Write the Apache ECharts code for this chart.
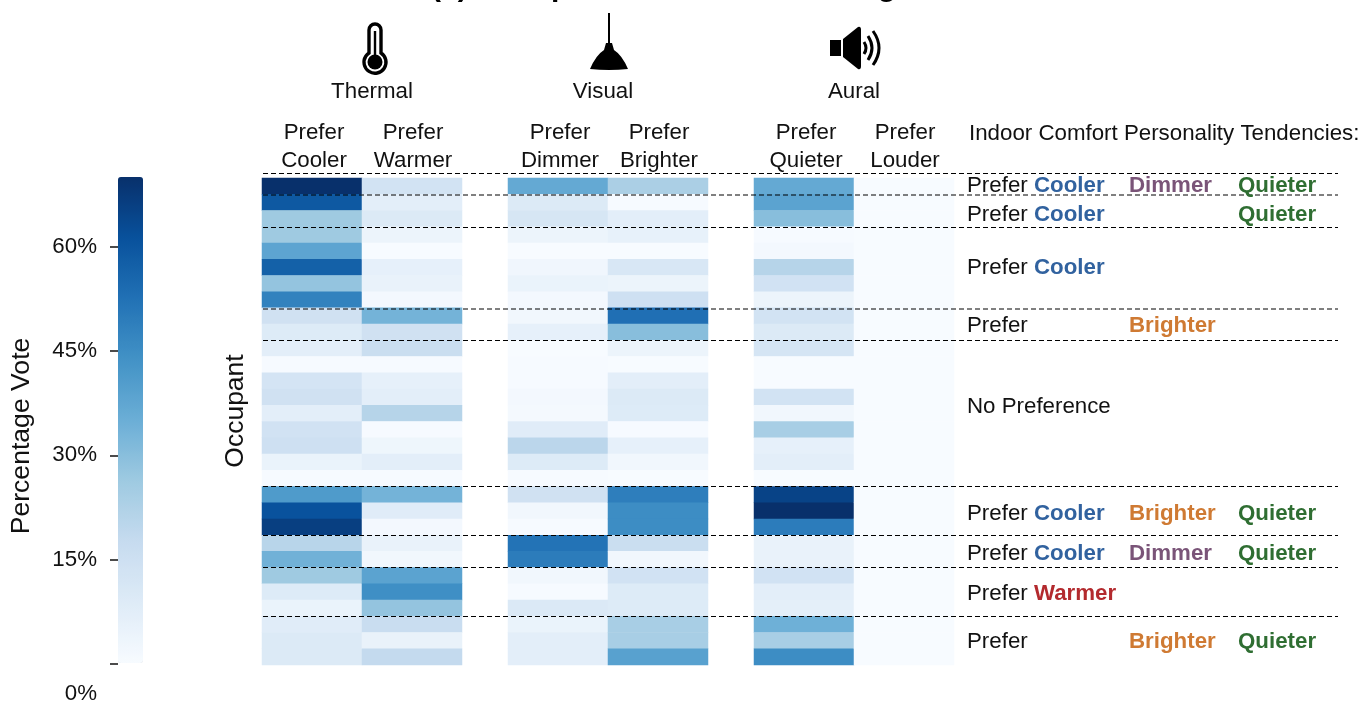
<!DOCTYPE html>
<html>
<head>
<meta charset="utf-8" />
<style>
  html, body { margin: 0; padding: 0; background: #fff; }
  #main { width: 1363px; height: 702px; }
</style>
<script src="https://cdn.jsdelivr.net/npm/echarts@6/dist/echarts.min.js"></script>
</head>
<body>
<div id="main"></div>
<script>
// percentage vote per occupant, top row first
const cooler   = [70, 59, 26, 26, 38, 57, 28, 48, 14, 9, 7, 0.5, 12.5, 14, 7, 13.5, 14.5, 4.5, 0.5, 41, 61, 66, 20.5, 34, 26, 9, 4.5, 8, 9.5, 9.5];
const warmer   = [13, 7, 9.5, 4, 0, 6, 5, 1.5, 33.5, 14, 16, 0.5, 6, 7, 21, 0.5, 3, 7, 0.5, 33.5, 8, 1.5, 5, 2, 38.5, 44.5, 28, 16.5, 5, 18];
const dimmer   = [36.5, 9.5, 11.5, 4, 0, 2.5, 4.5, 1.5, 2, 6, 0, 0.5, 0.5, 1.5, 1, 8, 20, 9, 0.5, 14, 2, 0.5, 52, 49.5, 2, 0.5, 10, 4.5, 7, 7];
const brighter = [23.5, 0.5, 7, 5.5, 0, 11, 4, 14.5, 53, 30, 4, 0, 7, 9.5, 9, 0.5, 6, 2, 0, 49, 45, 45, 16, 2, 13.5, 9, 9, 24, 24, 39];
const quieter  = [36.5, 38.5, 30, 0.5, 1.5, 21, 13.5, 4, 13, 9.5, 12, 0, 0, 13, 2, 24, 6, 7, 0, 65, 70, 49.5, 5, 5, 13.5, 7, 6.5, 34.5, 24, 45];
const louder   = [0, 0, 0, 0, 0, 0, 0, 0, 0, 0, 0, 0, 0, 0, 0, 0, 0, 0, 0, 0, 0, 0, 0, 0, 0, 0, 0, 0, 0, 0];

const occupants = cooler.map((v, i) => "O" + (i + 1));
const thermalCols = ["Prefer Cooler", "Prefer Warmer"];
const visualCols = ["Prefer Dimmer", "Prefer Brighter"];
const auralCols = ["Prefer Quieter", "Prefer Louder"];

const barTicks = [0, 15, 30, 45, 60];
const barLabels = [15, 30, 45, 60];

const blues = ["#f7fbff", "#deebf7", "#c6dbef", "#9ecae1", "#6baed6", "#4292c6", "#2171b5", "#08519c", "#08306b"];

// tendencies shown for each occupant group, slots: thermal, visual, aural
const tendencies = [
  ["Cooler", "Dimmer", "Quieter"],
  ["Cooler", "", "Quieter"],
  ["Cooler", "", ""],
  ["", "Brighter", ""],
  "No Preference",
  ["Cooler", "Brighter", "Quieter"],
  ["Cooler", "Dimmer", "Quieter"],
  ["Warmer", "", ""],
  ["", "Brighter", "Quieter"],
];

const tendencyColor = {
  Cooler: "#31629f",
  Warmer: "#b32a2e",
  Dimmer: "#7a5478",
  Brighter: "#cf7a33",
  Quieter: "#2f6e32",
};

// layout in page pixels
const font = '"Liberation Sans", Arial, sans-serif';
const labelSize = 22.3;
const rowY = [186, 215, 268, 326, 407, 514, 554, 594, 642];
const slotX = [1034, 1129, 1238];
const sepY = [173.5, 195, 227.5, 309, 340.5, 486.5, 535.5, 567.5, 616.5];

function cells(a, b) {
  let out = [];
  a.forEach((v, i) => out.push([0, i, v]));
  b.forEach((v, i) => out.push([1, i, v]));
  return out;
}

function text(str, x, y, size, opt) {
  opt = opt || {};
  return {
    type: "text",
    x: x,
    y: y,
    rotation: opt.rotation || 0,
    z: 100,
    silent: true,
    style: {
      text: str,
      font: (opt.bold ? "bold " : "") + size + "px " + font,
      fill: opt.color || "#111",
      align: opt.align || "center",
      verticalAlign: "middle",
    },
  };
}

// the graphic component has no path type, so each icon part is registered as a shape
let iconCount = 0;
function icon(path, fill, stroke, lineWidth) {
  let name = "iconPart" + iconCount++;
  echarts.graphic.registerShape(name, echarts.graphic.extendPath(path));
  return {
    type: name,
    z: 100,
    silent: true,
    style: { fill: fill, stroke: stroke, lineWidth: lineWidth || 0 },
  };
}

let graphics = [];

graphics.push(text("(a) Occupant Comfort Clustering", 431, -12, 30, { bold: true, align: "left", color: "#000" }));

// thermometer
graphics.push(icon("M369 53 V30 A6 6 0 0 1 381 30 V53 A11 11 0 1 1 369 53 Z", "none", "#000", 3.4));
graphics.push(icon("M375 31 V56", "none", "#000", 2.4));
graphics.push(icon("M382.5 62 A7.5 7.5 0 1 1 367.5 62 A7.5 7.5 0 1 1 382.5 62 Z", "#000", "none"));
// lamp
graphics.push(icon("M609 13 V44", "none", "#000", 2));
graphics.push(icon("M606 43 H612 L614 50 Q622 55 628 69 Q609 71 590 69 Q596 55 604 50 Z", "#000", "none"));
// speaker
graphics.push(icon("M830 40 H841 V56 H830 Z", "#000", "none"));
graphics.push(icon("M843 39 L858 27 Q861 26 861 30 V66 Q861 70 858 69 L843 57 Z", "#000", "none"));
graphics.push(icon("M864 42 Q868 48 864 54", "none", "#000", 3));
graphics.push(icon("M868 36 Q876 48 868 60", "none", "#000", 3));
graphics.push(icon("M873 31 Q885 48 873 65", "none", "#000", 3));

graphics.push(text("Thermal", 372, 92, labelSize));
graphics.push(text("Visual", 603, 92, labelSize));
graphics.push(text("Aural", 854, 92, labelSize));

[[thermalCols, 312], [visualCols, 558], [auralCols, 804]].forEach((g) => {
  g[0].forEach((name, i) => {
    let parts = name.split(" ");
    let cx = g[1] + i * 100 + (i == 1 ? 1 : 2);
    graphics.push(text(parts[0], cx, 133, labelSize));
    graphics.push(text(parts[1], cx, 161, labelSize));
  });
});

graphics.push(text("Indoor Comfort Personality Tendencies:", 969, 134, labelSize, { align: "left" }));
graphics.push(text("Occupant", 236, 411, 26.5, { rotation: Math.PI / 2 }));
graphics.push(text("Percentage Vote", 22, 436, 26.6, { rotation: Math.PI / 2 }));
graphics.push(text("0%", 97, 694, labelSize, { align: "right" }));

sepY.forEach((y) => {
  graphics.push({
    type: "line",
    z: 100,
    silent: true,
    shape: { x1: 263, y1: y, x2: 1338, y2: y },
    style: { stroke: "#000", lineWidth: 1, lineDash: [5, 3] },
  });
});

tendencies.forEach((row, i) => {
  if (typeof row == "string") {
    graphics.push(text(row, 967, rowY[i], labelSize, { align: "left" }));
    return;
  }
  graphics.push(text("Prefer", 967, rowY[i], labelSize, { align: "left" }));
  row.forEach((word, k) => {
    if (word) graphics.push(text(word, slotX[k], rowY[i], labelSize, { align: "left", bold: true, color: tendencyColor[word] }));
  });
});

function heatGrid(left) {
  return { left: left, top: 178, width: 200, height: 487, show: false };
}

function heatSeries(idx, a, b) {
  return {
    type: "heatmap",
    xAxisIndex: idx,
    yAxisIndex: idx,
    data: cells(a, b),
    progressive: 0,
    itemStyle: { borderWidth: 0 },
    emphasis: { disabled: true },
  };
}

function catX(idx, cols) {
  return { type: "category", gridIndex: idx, data: cols, show: false };
}

function catY(idx) {
  return { type: "category", gridIndex: idx, data: occupants, inverse: true, show: false };
}

let chartDom = document.getElementById("main");
let myChart = echarts.init(chartDom);
let option;

option = {
  animation: false,
  backgroundColor: "#fff",
  grid: [
    heatGrid(262),
    heatGrid(508),
    heatGrid(754),
    { left: 118, top: 177, width: 25, height: 487, show: false },
  ],
  xAxis: [
    catX(0, thermalCols),
    catX(1, visualCols),
    catX(2, auralCols),
    { type: "value", gridIndex: 3, show: false },
  ],
  yAxis: [
    catY(0),
    catY(1),
    catY(2),
    {
      type: "value",
      gridIndex: 3,
      min: 0,
      max: 70,
      interval: 15,
      axisLine: { show: false },
      splitLine: { show: false },
      axisTick: { show: true, length: 8, customValues: barTicks, lineStyle: { color: "#111", width: 1.5 } },
      axisLabel: {
        customValues: barLabels,
        formatter: "{value}%",
        margin: 21,
        padding: [2, 0, 0, 0],
        fontFamily: font,
        fontSize: labelSize,
        color: "#111",
      },
    },
  ],
  visualMap: {
    type: "continuous",
    min: 0,
    max: 70,
    seriesIndex: [0, 1, 2],
    inRange: { color: blues },
    left: 118,
    top: 177,
    padding: 0,
    itemWidth: 25,
    itemHeight: 486,
    showLabel: false,
    calculable: false,
    hoverLink: false,
  },
  series: [
    heatSeries(0, cooler, warmer),
    heatSeries(1, dimmer, brighter),
    heatSeries(2, quieter, louder),
  ],
  graphic: { elements: graphics },
};

option && myChart.setOption(option);
</script>
</body>
</html>
